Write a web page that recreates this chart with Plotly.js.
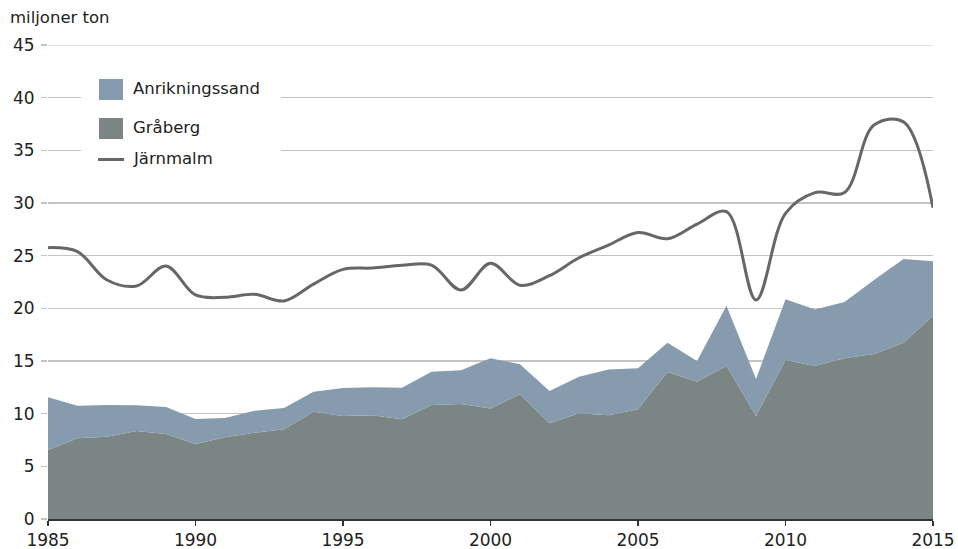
<!DOCTYPE html>
<html><head><meta charset="utf-8">
<script src="https://cdn.plot.ly/plotly-3.0.1.min.js"></script>
<style>html,body{margin:0;padding:0;background:#fff}#c{width:958px;height:549px}</style>
</head><body><div id="c"></div>
<script>
const years = [1985,1986,1987,1988,1989,1990,1991,1992,1993,1994,1995,1996,1997,1998,1999,2000,2001,2002,2003,2004,2005,2006,2007,2008,2009,2010,2011,2012,2013,2014,2015];
const graberg = [6.55,7.66,7.82,8.35,8.07,7.12,7.75,8.2,8.51,10.19,9.78,9.84,9.46,10.82,10.92,10.5,11.85,9.08,10.03,9.84,10.41,13.96,13.04,14.56,9.78,15.1,14.53,15.26,15.67,16.74,19.3];
const anrikningssand = [5.0,3.1,3.0,2.44,2.56,2.37,1.84,2.08,2.03,1.9,2.66,2.66,3.01,3.16,3.2,4.76,2.84,3.07,3.47,4.36,3.89,2.78,1.96,5.69,3.51,5.76,5.37,5.34,7.03,7.94,5.16];
const jarnmalm = [25.76,25.38,22.69,22.12,24.02,21.27,21.05,21.33,20.7,22.3,23.7,23.83,24.08,24.1,21.74,24.27,22.2,23.1,24.8,26.0,27.19,26.61,28.0,29.18,20.8,29.02,30.98,31.0,37.4,37.7,29.56];
const seriesNames = ["Anrikningssand","Gråberg","Järnmalm"];
const unitLabel = "miljoner ton";
const xTicks = [1985,1990,1995,2000,2005,2010,2015];

const C_ANR = "#869cae", C_GRA = "#7a8584", C_LINE = "#676767";
const FONT = "DejaVu Sans, sans-serif";
const W=958,H=549,L=48,R=25,T=45,B=30;
const pw=W-L-R, ph=H-T-B;
const px=x=>(x-L)/pw, py=y=>(H-B-y)/ph;

const traces = [
 {x:years,y:graberg,name:seriesNames[1],type:"scatter",mode:"lines",stackgroup:"a",line:{width:0},fillcolor:C_GRA,showlegend:false,hoverinfo:"skip"},
 {x:years,y:anrikningssand,name:seriesNames[0],type:"scatter",mode:"lines",stackgroup:"a",line:{width:0},fillcolor:C_ANR,showlegend:false,hoverinfo:"skip"},
 {x:years,y:jarnmalm,name:seriesNames[2],type:"scatter",mode:"lines",line:{color:C_LINE,width:3,shape:"spline",smoothing:1},showlegend:false,hoverinfo:"skip"}
];

const shapes = [
 {type:"line",xref:"paper",yref:"y",x0:0,x1:1,y0:45,y1:45,line:{color:"#c4c4c4",width:1.2},layer:"below"},
 {type:"rect",xref:"paper",yref:"paper",x0:px(81),x1:px(281),y0:py(180),y1:py(62),fillcolor:"#fff",line:{width:0},layer:"above"},
 {type:"rect",xref:"paper",yref:"paper",x0:px(99),x1:px(123),y0:py(100),y1:py(79),fillcolor:C_ANR,line:{width:0},layer:"above"},
 {type:"rect",xref:"paper",yref:"paper",x0:px(99),x1:px(123),y0:py(139),y1:py(118),fillcolor:C_GRA,line:{width:0},layer:"above"},
 {type:"line",xref:"paper",yref:"paper",x0:px(98),x1:px(124),y0:py(159.5),y1:py(159.5),line:{color:C_LINE,width:3},layer:"above"}
];
const ann = (t,x,y,extra)=>Object.assign({text:t,xref:"paper",yref:"paper",x:px(x),y:py(y),xanchor:"left",yanchor:"middle",showarrow:false,font:{family:FONT,size:16.5,color:"#222"}},extra||{});
const annotations = [
 ann(seriesNames[0],131,89),
 ann(seriesNames[1],131,128),
 ann(seriesNames[2],131,158),
 ann(unitLabel,8,18)
];

const layout = {
 width:W,height:H,margin:{l:L,r:R,t:T,b:B},paper_bgcolor:"#fff",plot_bgcolor:"#fff",
 font:{family:FONT,size:17,color:"#222"},showlegend:false,
 xaxis:{range:[1985,2015],tickvals:xTicks,ticktext:xTicks.map(String),showgrid:false,zeroline:false,
   showline:true,linecolor:"#333",linewidth:1.5,ticks:"outside",ticklen:5,tickcolor:"#333",tickwidth:1.5,
   tickfont:{family:FONT,size:17,color:"#222"},fixedrange:true},
 yaxis:{range:[0,45],dtick:5,showgrid:true,gridcolor:"#c4c4c4",gridwidth:1.2,zeroline:false,showline:false,
   ticks:"outside",ticklen:6,tickcolor:"#c4c4c4",tickwidth:1.2,ticklabelstandoff:3,
   tickfont:{family:FONT,size:17,color:"#222"},fixedrange:true},
 shapes:shapes,annotations:annotations
};
Plotly.newPlot("c",traces,layout,{staticPlot:true,displayModeBar:false});
</script></body></html>
